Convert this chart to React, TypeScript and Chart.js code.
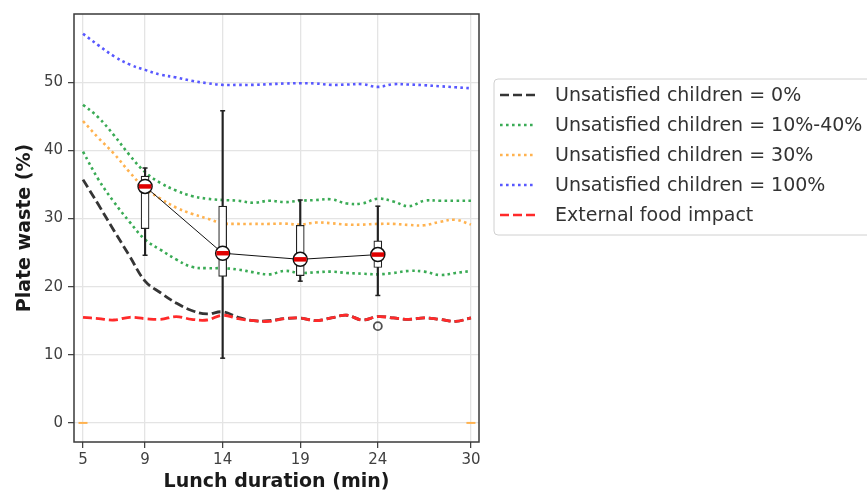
import { useEffect, useRef } from "react";
import { Chart, registerables } from "chart.js";

Chart.register(...registerables);

// ---- data ----
const durations = [5, 6, 7, 8, 9, 10, 11, 12, 13, 14, 15, 16, 17, 18, 19, 20, 21, 22, 23, 24, 25, 26, 27, 28, 29, 30];
const unsat0 = [35.7, 32.0, 28.2, 24.5, 20.8, 19.1, 17.6, 16.5, 16.0, 16.3, 15.5, 15.0, 15.0, 15.3, 15.4, 15.0, 15.4, 15.8, 15.1, 15.6, 15.4, 15.2, 15.4, 15.2, 14.9, 15.4];
const unsat10to40Upper = [46.7, 44.8, 42.2, 39.3, 36.8, 35.2, 34.1, 33.3, 32.9, 32.7, 32.6, 32.3, 32.6, 32.4, 32.6, 32.7, 32.8, 32.2, 32.2, 32.9, 32.5, 31.8, 32.6, 32.6, 32.6, 32.6];
const unsat10to40Lower = [39.8, 35.7, 32.4, 29.5, 26.9, 25.4, 24.0, 22.9, 22.7, 22.7, 22.5, 22.1, 21.8, 22.3, 22.0, 22.1, 22.2, 22.0, 21.9, 21.8, 22.0, 22.3, 22.2, 21.7, 22.0, 22.3];
const unsat30 = [44.3, 41.8, 39.5, 36.8, 34.4, 32.9, 31.6, 30.7, 30.0, 29.3, 29.2, 29.2, 29.2, 29.25, 29.1, 29.4, 29.3, 29.1, 29.1, 29.2, 29.2, 29.05, 29.0, 29.5, 29.8, 29.1];
const unsat100 = [57.1, 55.4, 53.8, 52.6, 51.8, 51.1, 50.7, 50.2, 49.85, 49.6, 49.6, 49.6, 49.7, 49.8, 49.85, 49.8, 49.6, 49.65, 49.7, 49.3, 49.7, 49.65, 49.55, 49.4, 49.25, 49.1];
const externalFood = [15.5, 15.3, 15.1, 15.5, 15.3, 15.2, 15.6, 15.2, 15.1, 15.8, 15.3, 15.0, 14.9, 15.3, 15.4, 15.0, 15.4, 15.8, 15.1, 15.6, 15.4, 15.2, 15.4, 15.2, 14.9, 15.4];

const boxX = [9, 14, 19, 24];
const boxMin = [24.6, 9.5, 20.8, 18.7];
const boxQ1 = [28.5, 21.5, 21.6, 22.8];
const boxMedian = [34.7, 24.9, 24.0, 24.7];
const boxQ3 = [36.2, 31.8, 29.0, 26.7];
const boxMax = [37.4, 45.8, 32.7, 31.8];
const boxMean = [34.7, 24.9, 24.0, 24.7];
const outlierX = [24];
const outlierY = [14.2];
const zeroMarkX = [5, 30];
const zeroMarkY = [0, 0];

const xTicks = [5, 9, 14, 19, 24, 30];
const yTicks = [0, 10, 20, 30, 40, 50];

const legendLabels = [
  "Unsatisfied children = 0%",
  "Unsatisfied children = 10%-40%",
  "Unsatisfied children = 30%",
  "Unsatisfied children = 100%",
  "External food impact",
];

// ---- styles ----
const C_BLACK = "#353535";
const C_GREEN = "#3aab55";
const C_ORANGE = "#ffb24f";
const C_BLUE = "#5858ff";
const C_RED = "#ff2a2a";
const DASH = [9, 4];
const DOT = [2.6, 3.4];

const legendStyles = [
  { color: C_BLACK, dash: DASH },
  { color: C_GREEN, dash: DOT },
  { color: C_ORANGE, dash: DOT },
  { color: C_BLUE, dash: DOT },
  { color: C_RED, dash: DASH },
];

const pts = (xs: number[], ys: number[]) => xs.map((x, i) => ({ x, y: ys[i] }));

export default function App() {
  const ref = useRef<HTMLCanvasElement | null>(null);

  useEffect(() => {
    document.body.style.margin = "0";
    const canvas = ref.current;
    if (!canvas) return;

    const lineDs = (ys: number[], color: string, dash: number[], order: number, width = 2.6) => ({
      type: "line" as const,
      data: pts(durations, ys),
      borderColor: color,
      backgroundColor: color,
      borderWidth: width,
      borderDash: dash,
      borderCapStyle: "butt" as const,
      pointRadius: 0,
      tension: 0.4,
      fill: false,
      order,
    });

    const framePlugin = {
      id: "frameAndLegend",
      afterDraw(chart: any) {
        const { ctx, chartArea } = chart;
        ctx.save();
        ctx.strokeStyle = "#3a3a3a";
        ctx.lineWidth = 1.5;
        ctx.strokeRect(chartArea.left, chartArea.top, chartArea.right - chartArea.left, chartArea.bottom - chartArea.top);

        // legend
        const bx = 494, by = 79, bw = 390, bh = 156, r = 4;
        ctx.beginPath();
        ctx.moveTo(bx + r, by);
        ctx.lineTo(bx + bw - r, by);
        ctx.arcTo(bx + bw, by, bx + bw, by + r, r);
        ctx.lineTo(bx + bw, by + bh - r);
        ctx.arcTo(bx + bw, by + bh, bx + bw - r, by + bh, r);
        ctx.lineTo(bx + r, by + bh);
        ctx.arcTo(bx, by + bh, bx, by + bh - r, r);
        ctx.lineTo(bx, by + r);
        ctx.arcTo(bx, by, bx + r, by, r);
        ctx.closePath();
        ctx.fillStyle = "rgba(255,255,255,0.9)";
        ctx.fill();
        ctx.strokeStyle = "#d0d0d0";
        ctx.lineWidth = 1;
        ctx.setLineDash([]);
        ctx.stroke();

        ctx.font = "19px 'DejaVu Sans'";
        ctx.textBaseline = "middle";
        ctx.textAlign = "left";
        legendLabels.forEach((label, i) => {
          const y = 95 + i * 30;
          const st = legendStyles[i];
          ctx.beginPath();
          ctx.setLineDash(st.dash);
          ctx.lineCap = "butt";
          ctx.strokeStyle = st.color;
          ctx.lineWidth = 2.6;
          ctx.moveTo(500, y);
          ctx.lineTo(535, y);
          ctx.stroke();
          ctx.setLineDash([]);
          ctx.fillStyle = "#333333";
          ctx.fillText(label, 555, y + 1);
        });
        ctx.restore();
      },
    };

    const gridOpts = {
      color: "#e4e4e4",
      lineWidth: 1.3,
      tickColor: "#3a3a3a",
      tickLength: 6,
      tickWidth: 1.2,
      offset: false,
    };

    const chart = new Chart(canvas, {
      type: "line",
      data: {
        datasets: [
          // medians (top)
          {
            type: "scatter",
            data: pts(boxX, boxMedian),
            pointStyle: "line",
            pointRadius: 6.3,
            pointBorderWidth: 4.5,
            pointBorderColor: "#e00000",
            pointBackgroundColor: "#e00000",
            order: 1,
          },
          // means with connecting line
          {
            type: "line",
            data: pts(boxX, boxMean),
            borderColor: "#111111",
            borderWidth: 1,
            pointRadius: 7,
            pointBorderWidth: 1.5,
            pointBorderColor: "#111111",
            pointBackgroundColor: "#ffffff",
            tension: 0,
            order: 2,
          },
          // outlier
          {
            type: "scatter",
            data: pts(outlierX, outlierY),
            pointStyle: "circle",
            pointRadius: 4,
            pointBorderWidth: 1.8,
            pointBorderColor: "#505050",
            pointBackgroundColor: "rgba(255,255,255,0)",
            order: 2,
          },
          // whisker caps
          {
            type: "scatter",
            data: [...pts(boxX, boxMin), ...pts(boxX, boxMax)],
            pointStyle: "line",
            pointRadius: 2.5,
            pointBorderWidth: 1.5,
            pointBorderColor: "#222222",
            order: 3,
          },
          // boxes
          {
            type: "bar",
            data: boxX.map((x, i) => ({ x, y: [boxQ1[i], boxQ3[i]] })),
            backgroundColor: "#ffffff",
            borderColor: "#222222",
            borderWidth: 1.2,
            borderSkipped: false,
            barThickness: 8,
            grouped: false,
            order: 4,
          },
          // whiskers
          {
            type: "bar",
            data: boxX.map((x, i) => ({ x, y: [boxMin[i], boxMax[i]] })),
            backgroundColor: "#222222",
            borderWidth: 0,
            barThickness: 1.5,
            grouped: false,
            order: 5,
          },
          // zero marks (orange)
          {
            type: "scatter",
            data: pts(zeroMarkX, zeroMarkY),
            pointStyle: "line",
            pointRadius: 4.5,
            pointBorderWidth: 2,
            pointBorderColor: C_ORANGE,
            order: 6,
          },
          lineDs(externalFood, C_RED, DASH, 7, 2.8),
          lineDs(unsat100, C_BLUE, DOT, 8),
          lineDs(unsat30, C_ORANGE, DOT, 9),
          lineDs(unsat10to40Lower, C_GREEN, DOT, 10),
          lineDs(unsat10to40Upper, C_GREEN, DOT, 10),
          lineDs(unsat0, C_BLACK, DASH, 11, 2.8),
        ] as any,
      },
      options: {
        responsive: false,
        animation: false,
        devicePixelRatio: 1,
        layout: { padding: { left: 0, top: 11, right: 388, bottom: 0 } },
        plugins: { legend: { display: false }, tooltip: { enabled: false } },
        scales: {
          x: {
            type: "linear",
            min: 4.42,
            max: 30.52,
            offset: false,
            afterFit: (s: any) => {
              s.height = 51;
            },
            afterBuildTicks: (s: any) => {
              s.ticks = xTicks.map((v) => ({ value: v }));
            },
            grid: gridOpts,
            border: { display: false },
            ticks: { color: "#404040", font: { family: "'DejaVu Sans'", size: 15 }, padding: 3, maxRotation: 0 },
            title: {
              display: true,
              text: "Lunch duration (min)",
              color: "#1a1a1a",
              font: { family: "'DejaVu Sans'", size: 19, weight: "bold" },
              padding: { top: 0, bottom: 0 },
            },
          },
          y: {
            type: "linear",
            min: -2.8,
            max: 60,
            afterFit: (s: any) => {
              s.width = 74;
            },
            afterBuildTicks: (s: any) => {
              s.ticks = yTicks.map((v) => ({ value: v }));
            },
            grid: gridOpts,
            border: { display: false },
            ticks: { color: "#404040", font: { family: "'DejaVu Sans'", size: 15 }, padding: 5 },
            title: {
              display: true,
              text: "Plate waste (%)",
              color: "#1a1a1a",
              font: { family: "'DejaVu Sans'", size: 19, weight: "bold" },
              padding: { top: 14, bottom: 0 },
            },
          },
        },
      },
      plugins: [framePlugin],
    });

    return () => chart.destroy();
  }, []);

  return (
    <div style={{ width: 867, height: 493 }}>
      <canvas ref={ref} width={867} height={493} style={{ display: "block" }} />
    </div>
  );
}
